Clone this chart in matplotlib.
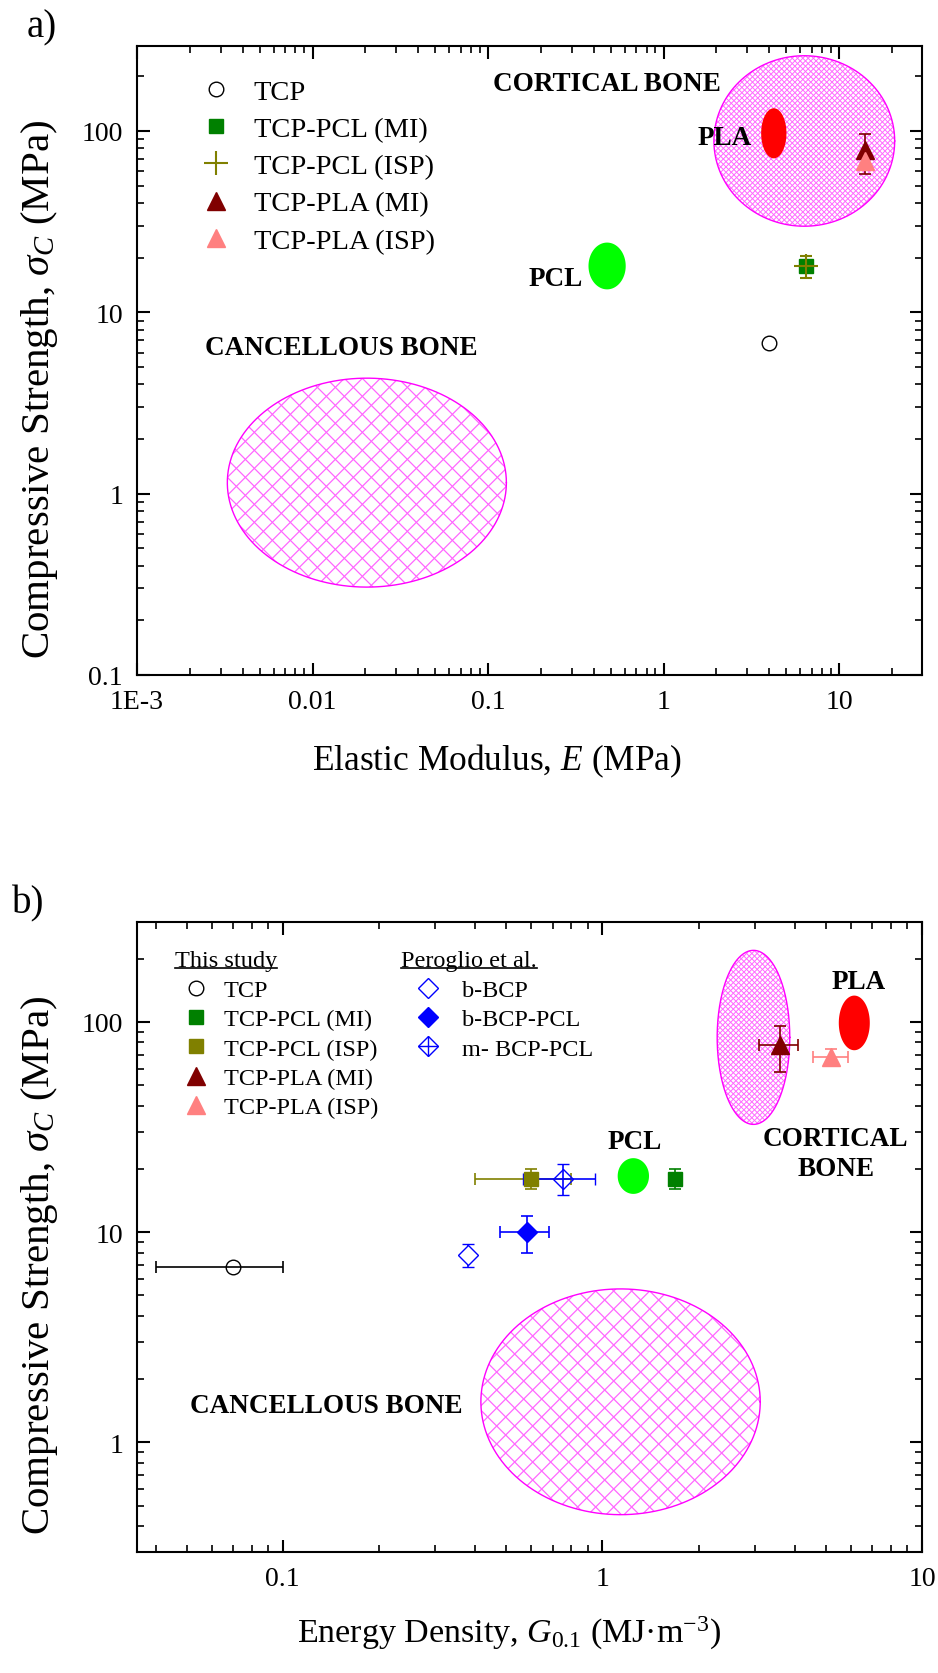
import numpy as np
import matplotlib
matplotlib.use('Agg')
import matplotlib.pyplot as plt
from matplotlib.ticker import FixedLocator, FixedFormatter, LogLocator, NullFormatter
from matplotlib.lines import Line2D
from matplotlib.collections import LineCollection

plt.rcParams['font.family'] = 'Liberation Serif'
plt.rcParams['mathtext.fontset'] = 'custom'
plt.rcParams['mathtext.rm'] = 'Liberation Serif'
plt.rcParams['mathtext.it'] = 'Liberation Serif:italic'

# ---- panel a: elastic modulus vs compressive strength ----
a_tcp_E, a_tcp_s = [4.0], [6.8]
a_pcl_mi_E, a_pcl_mi_s, a_pcl_mi_err = [6.5], [18.0], [1.5]
a_pcl_isp_E, a_pcl_isp_s, a_pcl_isp_err = [6.5], [18.0], [2.5]
a_pla_mi_E, a_pla_mi_s, a_pla_mi_err = [14.0], [78.0], [[20.0], [18.0]]
a_pla_isp_E, a_pla_isp_s, a_pla_isp_err = [14.0], [68.0], [7.0]

# regions: centre x, centre y, half width (decades), half height (decades)
a_cancellous = [0.0204, 1.15, 0.795, 0.576]
a_cortical = [6.34, 88.0, 0.515, 0.47]
a_pcl_region = [0.477, 18.0, 0.106, 0.129]
a_pla_region = [4.25, 97.0, 0.072, 0.138]

# ---- panel b: energy density vs compressive strength ----
b_tcp_G, b_tcp_s, b_tcp_xerr = [0.07], [6.8], [0.03]
b_pcl_mi_G, b_pcl_mi_s, b_pcl_mi_yerr = [1.69], [18.0], [2.0]
b_pcl_isp_G, b_pcl_isp_s, b_pcl_isp_xerr, b_pcl_isp_yerr = [0.6], [18.0], [0.2], [2.0]
b_pla_mi_G, b_pla_mi_s, b_pla_mi_xerr, b_pla_mi_yerr = [3.6], [78.0], [0.5], [[20.0], [18.0]]
b_pla_isp_G, b_pla_isp_s, b_pla_isp_xerr, b_pla_isp_yerr = [5.2], [68.0], [0.65], [6.5]
b_bbcp_G, b_bbcp_s, b_bbcp_yerr = [0.38], [7.8], [1.0]
b_bbcppcl_G, b_bbcppcl_s, b_bbcppcl_xerr, b_bbcppcl_yerr = [0.58], [10.0], [0.1], [2.0]
b_mbcppcl_G, b_mbcppcl_s, b_mbcppcl_xerr, b_mbcppcl_yerr = [0.755], [18.0], [0.19], [3.0]

b_cancellous = [1.14, 1.56, 0.437, 0.537]
b_cortical = [2.97, 84.5, 0.1136, 0.414]
b_pcl_region = [1.25, 18.5, 0.049, 0.085]
b_pla_region = [6.14, 99.0, 0.0485, 0.13]

a_xticks = [1e-3, 0.01, 0.1, 1, 10]
a_xlabels = ['1E-3', '0.01', '0.1', '1', '10']
a_yticks = [0.1, 1, 10, 100]
a_ylabels = ['0.1', '1', '10', '100']
b_xticks = [0.1, 1, 10]
b_xlabels = ['0.1', '1', '10']
b_yticks = [1, 10, 100]
b_ylabels = ['1', '10', '100']

this_labels = ['TCP', 'TCP-PCL (MI)', 'TCP-PCL (ISP)', 'TCP-PLA (MI)', 'TCP-PLA (ISP)']
pero_labels = ['b-BCP', 'b-BCP-PCL', 'm- BCP-PCL']

GREEN = '#008000'
OLIVE = '#808000'
DRED = '#800000'
PINK = '#ff8080'
BLUE = '#0000ff'
HATCH = '#ff66ff'
MAG = '#ff00ff'


def ellipse(cx, cy, hx, hy, n=300):
    t = np.linspace(0, 2 * np.pi, n)
    return cx * 10 ** (hx * np.cos(t)), cy * 10 ** (hy * np.sin(t))


def bone(ax, reg, step, lw):
    # cross hatched ellipse, hatch spacing given in pixels
    x, y = ellipse(*reg)
    patch, = ax.fill(x, y, facecolor='white', edgecolor='none', zorder=1)
    pos = ax.get_position()
    W = pos.width * fig.get_figwidth() * fig.dpi
    H = pos.height * fig.get_figheight() * fig.dpi
    segs = []
    for c in np.arange(-H, W + H, step):
        segs.append([(c / W, 0), ((c + H) / W, 1)])
        segs.append([(c / W, 1), ((c + H) / W, 0)])
    lc = LineCollection(segs, transform=ax.transAxes, colors=HATCH, linewidths=lw, zorder=1.2)
    lc.set_clip_path(patch)
    ax.add_collection(lc, autolim=False)
    ax.plot(x, y, color=MAG, lw=1.0, zorder=1.5)


def blob(ax, reg, color):
    x, y = ellipse(*reg)
    ax.fill(x, y, color=color, lw=0, zorder=2)


def style_axis(ax, xt, xl, yt, yl):
    ax.set_xscale('log')
    ax.set_yscale('log')
    ax.xaxis.set_major_locator(FixedLocator(xt))
    ax.xaxis.set_major_formatter(FixedFormatter(xl))
    ax.yaxis.set_major_locator(FixedLocator(yt))
    ax.yaxis.set_major_formatter(FixedFormatter(yl))
    ax.xaxis.set_minor_locator(LogLocator(base=10, subs=np.arange(2, 10), numticks=50))
    ax.yaxis.set_minor_locator(LogLocator(base=10, subs=np.arange(2, 10), numticks=50))
    ax.xaxis.set_minor_formatter(NullFormatter())
    ax.yaxis.set_minor_formatter(NullFormatter())
    ax.tick_params(which='both', direction='in', top=True, right=True, labelsize=20)
    ax.tick_params(which='major', length=9, width=1.5, pad=10)
    ax.tick_params(which='minor', length=5, width=1.2)
    for s in ax.spines.values():
        s.set_linewidth(1.5)


fig = plt.figure(figsize=(9.38, 16.74), dpi=100)
ax_a = fig.add_axes([137 / 938, 1 - 676 / 1674, 785 / 938, 629.3 / 1674])
ax_b = fig.add_axes([137 / 938, 1 - 1553.3 / 1674, 785 / 938, 630.6 / 1674])

eb = dict(capsize=4.2, elinewidth=1.2, capthick=1.2, ls='none', zorder=4)
bold = dict(fontsize=19.5, fontweight='bold', va='center', zorder=5)

# ---------- panel a ----------
bone(ax_a, a_cancellous, 18, 0.9)
bone(ax_a, a_cortical, 5.3, 0.7)
blob(ax_a, a_pcl_region, '#00ff00')
blob(ax_a, a_pla_region, '#ff0000')

h_tcp, = ax_a.plot(a_tcp_E, a_tcp_s, 'o', ms=10.5, mfc='none', mec='black', mew=1.0, zorder=4)
c1 = ax_a.errorbar(a_pcl_mi_E, a_pcl_mi_s, yerr=a_pcl_mi_err, fmt='s', ms=10.3, color=GREEN, **eb)
c2 = ax_a.errorbar(a_pcl_isp_E, a_pcl_isp_s, yerr=a_pcl_isp_err, fmt='+', ms=17, mew=1.5, color=OLIVE, **eb)
c3 = ax_a.errorbar(a_pla_mi_E, a_pla_mi_s, yerr=a_pla_mi_err, fmt='^', ms=13, color=DRED, **eb)
c4 = ax_a.errorbar(a_pla_isp_E, a_pla_isp_s, yerr=a_pla_isp_err, fmt='^', ms=13, color=PINK, **eb)

ax_a.text(0.107, 182, 'CORTICAL BONE', ha='left', **bold)
ax_a.text(3.2, 92, 'PLA', ha='right', **bold)
ax_a.text(0.345, 15.4, 'PCL', ha='right', **bold)
ax_a.text(0.00243, 6.4, 'CANCELLOUS BONE', ha='left', **bold)

style_axis(ax_a, a_xticks, a_xlabels, a_yticks, a_ylabels)
ax_a.set_xlim(1e-3, 29.7)
ax_a.set_ylim(0.1, 295)

ax_a.legend([h_tcp, c1[0], c2[0], c3[0], c4[0]], this_labels, loc='upper left',
            bbox_to_anchor=(0.0825, 0.9476), frameon=False, fontsize=20.5,
            handlelength=1.0, handletextpad=0.83, labelspacing=0.4,
            borderpad=0, borderaxespad=0, numpoints=1)

# ---------- panel b ----------
bone(ax_b, b_cancellous, 18, 0.9)
bone(ax_b, b_cortical, 5.3, 0.7)
blob(ax_b, b_pcl_region, '#00ff00')
blob(ax_b, b_pla_region, '#ff0000')

d1 = ax_b.errorbar(b_tcp_G, b_tcp_s, xerr=b_tcp_xerr, fmt='o', ms=10.5, mfc='none', mec='black',
                   color='black', **eb)
d3 = ax_b.errorbar(b_pcl_isp_G, b_pcl_isp_s, xerr=b_pcl_isp_xerr, yerr=b_pcl_isp_yerr, fmt='s',
                   ms=10.5, color=OLIVE, **eb)
d2 = ax_b.errorbar(b_pcl_mi_G, b_pcl_mi_s, yerr=b_pcl_mi_yerr, fmt='s', ms=10.5, color=GREEN, **eb)
d4 = ax_b.errorbar(b_pla_mi_G, b_pla_mi_s, xerr=b_pla_mi_xerr, yerr=b_pla_mi_yerr, fmt='^', ms=13,
                   color=DRED, **eb)
d5 = ax_b.errorbar(b_pla_isp_G, b_pla_isp_s, xerr=b_pla_isp_xerr, yerr=b_pla_isp_yerr, fmt='^',
                   ms=13, color=PINK, **eb)
p1 = ax_b.errorbar(b_bbcp_G, b_bbcp_s, yerr=b_bbcp_yerr, fmt='D', ms=10, mfc='white', mec=BLUE,
                   mew=1.0, color=BLUE, **eb)
p2 = ax_b.errorbar(b_bbcppcl_G, b_bbcppcl_s, xerr=b_bbcppcl_xerr, yerr=b_bbcppcl_yerr, fmt='D',
                   ms=10, color=BLUE, **eb)
p3 = ax_b.errorbar(b_mbcppcl_G, b_mbcppcl_s, xerr=b_mbcppcl_xerr, yerr=b_mbcppcl_yerr, fmt='D',
                   ms=10, mfc='none', mec=BLUE, mew=1.0, color=BLUE, **eb)

ax_b.text(6.35, 155, 'PLA', ha='center', **bold)
ax_b.text(5.37, 23.7, 'CORTICAL\nBONE', ha='center', linespacing=1.3, **bold)
ax_b.text(1.26, 26.9, 'PCL', ha='center', **bold)
ax_b.text(0.0512, 1.49, 'CANCELLOUS BONE', ha='left', **bold)

style_axis(ax_b, b_xticks, b_xlabels, b_yticks, b_ylabels)
ax_b.set_xlim(0.035, 10)
ax_b.set_ylim(0.3, 300)

plus = Line2D([], [], marker='+', ms=14.1, mew=1.0, color=BLUE, ls='none')
leg_kw = dict(loc='upper left', frameon=False, fontsize=17.5, handlelength=1.0,
              labelspacing=0.3, borderpad=0, borderaxespad=0, numpoints=1)
leg1 = ax_b.legend([d1[0], d2[0], d3[0], d4[0], d5[0]], this_labels,
                   bbox_to_anchor=(0.0593, 0.909), handletextpad=0.66, **leg_kw)
ax_b.add_artist(leg1)
ax_b.legend([p1[0], p2[0], (p3[0], plus)], pero_labels, bbox_to_anchor=(0.3556, 0.909),
            handletextpad=0.875, **leg_kw)

hdr1 = ax_b.text(0.0484, 0.938, 'This study', transform=ax_b.transAxes, fontsize=17.5,
                 ha='left', va='center')
hdr2 = ax_b.text(0.336, 0.938, 'Peroglio et al.', transform=ax_b.transAxes, fontsize=17.5,
                 ha='left', va='center')

# axis titles and panel letters
ylab = 'Compressive Strength, $\\sigma_C$ (MPa)'
fig.text(0.0426, 1 - 389 / 1674, ylab, rotation=90, ha='center', va='center', fontsize=29.5)
fig.text(0.0426, 1 - 1265 / 1674, ylab, rotation=90, ha='center', va='center', fontsize=29.5)
fig.text(0.530, 1 - 770 / 1674, 'Elastic Modulus, $E$ (MPa)', ha='center', va='baseline',
         fontsize=25.5)
fig.text(0.543, 1 - 1643 / 1674, 'Energy Density, $G_{\\mathit{0.1}}$ (MJ·m$^{\\mathrm{-3}}$)',
         ha='center', va='baseline', fontsize=24.5)
fig.text(42 / 938, 1 - 28 / 1674, 'a)', ha='center', va='center', fontsize=28)
fig.text(28 / 938, 1 - 904 / 1674, 'b)', ha='center', va='center', fontsize=28)

# underline the legend headers
fig.canvas.draw()
r = fig.canvas.get_renderer()
inv = fig.transFigure.inverted()
for t in (hdr1, hdr2):
    bb = t.get_window_extent(r)
    (x0, y0), (x1, _) = inv.transform([(bb.x0, bb.y0 + 3), (bb.x1, bb.y0 + 3)])
    fig.add_artist(Line2D([x0, x1], [y0, y0], transform=fig.transFigure, color='black', lw=1.2))

fig.savefig('out.png', dpi=100)
